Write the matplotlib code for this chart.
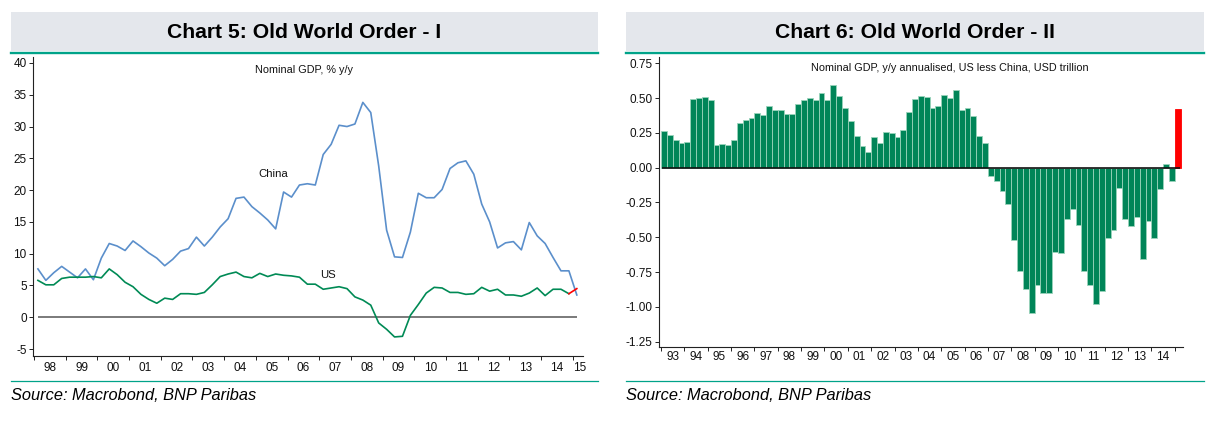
import matplotlib
matplotlib.use('Agg')
import matplotlib.pyplot as plt
import numpy as np
from matplotlib.patches import Rectangle
from matplotlib.lines import Line2D
from matplotlib.ticker import FixedLocator, NullFormatter, FixedFormatter

plt.rcParams['font.family'] = ['Liberation Sans', 'DejaVu Sans']
plt.rcParams['axes.unicode_minus'] = False

# ---------------- data ----------------
# Chart 5: nominal GDP % y/y, quarterly from 1998Q1 to 2015Q1
line_start_year = 1998
china = [7.6, 5.8, 7.0, 8.0, 7.1, 6.2, 7.6, 5.9,
         9.3, 11.6, 11.2, 10.5, 12.0, 11.1, 10.1, 9.3,
         8.1, 9.1, 10.4, 10.8, 12.6, 11.2, 12.6, 14.2,
         15.5, 18.7, 18.9, 17.4, 16.4, 15.3, 13.9, 19.7,
         18.9, 20.8, 21.0, 20.8, 25.6, 27.2, 30.2, 30.0,
         30.4, 33.8, 32.2, 23.8, 13.7, 9.5, 9.4, 13.4,
         19.5, 18.8, 18.8, 20.1, 23.4, 24.3, 24.6, 22.5,
         17.8, 15.0, 10.9, 11.7, 11.9, 10.6, 14.9, 12.8,
         11.6, 9.4, 7.3, 7.3, 3.5]
us = [5.8, 5.1, 5.1, 6.1, 6.3, 6.3, 6.3, 6.4,
      6.2, 7.6, 6.7, 5.5, 4.8, 3.6, 2.8, 2.2,
      3.0, 2.8, 3.7, 3.7, 3.6, 3.9, 5.1, 6.4,
      6.8, 7.1, 6.4, 6.2, 6.9, 6.4, 6.8, 6.6,
      6.5, 6.3, 5.2, 5.2, 4.4, 4.6, 4.8, 4.5,
      3.2, 2.7, 1.9, -0.9, -1.9, -3.1, -3.0, 0.3,
      2.0, 3.8, 4.7, 4.6, 3.9, 3.9, 3.6, 3.7,
      4.7, 4.1, 4.4, 3.5, 3.5, 3.3, 3.8, 4.6,
      3.4, 4.4, 4.4, 3.7, 4.5]
left_years = list(range(1998, 2016))
left_year_labels = ['98', '99', '00', '01', '02', '03', '04', '05', '06',
                    '07', '08', '09', '10', '11', '12', '13', '14', '15']

# Chart 6: US less China nominal GDP change, USD trillion, quarterly from 1993Q1 to 2015Q1
bar_start_year = 1993
us_less_china = [0.263, 0.232, 0.199, 0.177, 0.182, 0.493, 0.500, 0.508,
                 0.484, 0.165, 0.170, 0.160, 0.199, 0.318, 0.340, 0.359,
                 0.395, 0.376, 0.445, 0.414, 0.414, 0.386, 0.386, 0.455,
                 0.489, 0.498, 0.486, 0.534, 0.486, 0.596, 0.517, 0.426,
                 0.335, 0.227, 0.158, 0.110, 0.220, 0.175, 0.256, 0.251,
                 0.218, 0.273, 0.397, 0.494, 0.512, 0.505, 0.426, 0.443,
                 0.524, 0.500, 0.560, 0.417, 0.431, 0.369, 0.225, 0.177,
                 -0.060, -0.098, -0.165, -0.263, -0.522, -0.745, -0.869, -1.044,
                 -0.845, -0.898, -0.900, -0.608, -0.615, -0.371, -0.295, -0.409,
                 -0.745, -0.845, -0.977, -0.888, -0.503, -0.450, -0.146, -0.369,
                 -0.417, -0.357, -0.656, -0.383, -0.503, -0.151, 0.029, -0.098,
                 0.419]
right_years = list(range(1993, 2016))
right_year_labels = ['93', '94', '95', '96', '97', '98', '99', '00', '01', '02', '03',
                     '04', '05', '06', '07', '08', '09', '10', '11', '12', '13', '14']

left_yticks = [-5, 0, 5, 10, 15, 20, 25, 30, 35, 40]
right_yticks = [-1.25, -1.00, -0.75, -0.50, -0.25, 0.00, 0.25, 0.50, 0.75]

# ---------------- styles ----------------
W, H = 1222, 421
HEADER = '#e4e7ec'
TEAL = '#00a389'
BLUE = '#5b8fcb'
GREEN_LINE = '#008a55'
BAR_GREEN = '#008558'
BAR_EDGE = '#9ad3bb'
RED = '#ff0000'
TXT = '#111111'

fig = plt.figure(figsize=(W / 100, H / 100), dpi=100)


def px_rect(x0, y0, x1, y1):
    return [x0 / W, 1 - y1 / H, (x1 - x0) / W, (y1 - y0) / H]


def fy(y):
    return 1 - y / H


panels = [(11, 598, 'Chart 5: Old World Order - I'),
          (626, 1204, 'Chart 6: Old World Order - II')]
for x0, x1, title in panels:
    fig.patches.append(Rectangle((x0 / W, fy(51)), (x1 - x0) / W, (51 - 12) / H,
                                 transform=fig.transFigure, facecolor=HEADER,
                                 edgecolor='none', zorder=0))
    fig.lines.append(Line2D([x0 / W, x1 / W], [fy(52.5), fy(52.5)], transform=fig.transFigure,
                            color=TEAL, lw=1.7))
    fig.lines.append(Line2D([x0 / W, x1 / W], [fy(380.5), fy(380.5)], transform=fig.transFigure,
                            color=TEAL, lw=0.9))
    fig.text((x0 + x1) / 2 / W, fy(32), title, ha='center', va='center',
             fontsize=15.2, fontweight='bold', color='black')
    fig.text(x0 / W, fy(396), 'Source: Macrobond, BNP Paribas', ha='left', va='center',
             fontsize=11.8, style='italic', color='black')


def style_axes(ax):
    for s in ['top', 'right']:
        ax.spines[s].set_visible(False)
    for s in ['left', 'bottom']:
        ax.spines[s].set_color('#222222')
        ax.spines[s].set_linewidth(0.8)
    ax.tick_params(axis='y', which='major', direction='out', length=3, width=0.7,
                   pad=1.5, labelsize=8.5, colors='#222222', labelcolor=TXT)
    ax.tick_params(axis='x', which='major', direction='out', length=3, width=0.7,
                   colors='#222222')
    ax.tick_params(axis='x', which='minor', length=0, labelsize=8.5, labelcolor=TXT)


# ---------------- left chart ----------------
ax1 = fig.add_axes(px_rect(33, 57, 583, 356))
t1 = line_start_year + 0.125 + 0.25 * np.arange(len(china))
ax1.hlines(0, t1[0], t1[-1], color='#707070', lw=1.3, zorder=1)
ax1.plot(t1, china, color=BLUE, lw=1.2, zorder=3)
ax1.plot(t1[:-1], us[:-1], color=GREEN_LINE, lw=1.2, zorder=3)
ax1.plot(t1[-2:], us[-2:], color=RED, lw=1.2, zorder=4)
ax1.set_xlim(1997.97, 2015.32)
ax1.set_ylim(-6.1, 40.94)
ax1.set_yticks(left_yticks)
ax1.set_yticklabels([str(v) for v in left_yticks])
ax1.xaxis.set_major_locator(FixedLocator(left_years))
ax1.xaxis.set_major_formatter(NullFormatter())
lab_pos1 = [y + 0.5 for y in left_years[:-1]] + [left_years[-1] + 0.22]
ax1.xaxis.set_minor_locator(FixedLocator(lab_pos1))
ax1.xaxis.set_minor_formatter(FixedFormatter(left_year_labels))
style_axes(ax1)
ax1.tick_params(axis='x', which='minor', pad=4.5)
ax1.text(0.493, 0.957, 'Nominal GDP, % y/y', transform=ax1.transAxes, ha='center',
         va='center', fontsize=7.8, color=TXT)
ax1.text(2005.54, 22.5, 'China', ha='center', va='center', fontsize=8.2, color=TXT)
ax1.text(2007.27, 6.6, 'US', ha='center', va='center', fontsize=8.2, color=TXT)

# ---------------- right chart ----------------
ax2 = fig.add_axes(px_rect(659, 57, 1182.7, 347))
t2 = bar_start_year + 0.125 + 0.25 * np.arange(len(us_less_china))
colors = [BAR_GREEN] * (len(us_less_china) - 1) + [RED]
edges = [BAR_EDGE] * (len(us_less_china) - 1) + [RED]
ax2.bar(t2, us_less_china, width=0.25, color=colors, edgecolor=edges, linewidth=0.6,
        zorder=2)
ax2.hlines(0, t2[0] - 0.1, t2[-1] + 0.1, color='#111111', lw=1.2, zorder=3)
ax2.set_xlim(1992.914, 2015.34)
ax2.set_ylim(-1.288, 0.795)
ax2.set_yticks(right_yticks)
ax2.set_yticklabels(['%.2f' % v for v in right_yticks])
ax2.xaxis.set_major_locator(FixedLocator(right_years))
ax2.xaxis.set_major_formatter(NullFormatter())
ax2.xaxis.set_minor_locator(FixedLocator([y + 0.5 for y in right_years[:-1]]))
ax2.xaxis.set_minor_formatter(FixedFormatter(right_year_labels))
style_axes(ax2)
ax2.tick_params(axis='x', which='minor', pad=3)
ax2.text(0.556, 0.962, 'Nominal GDP, y/y annualised, US less China, USD trillion',
         transform=ax2.transAxes, ha='center', va='center', fontsize=7.8, color=TXT)

fig.savefig('out.png', dpi=100)
